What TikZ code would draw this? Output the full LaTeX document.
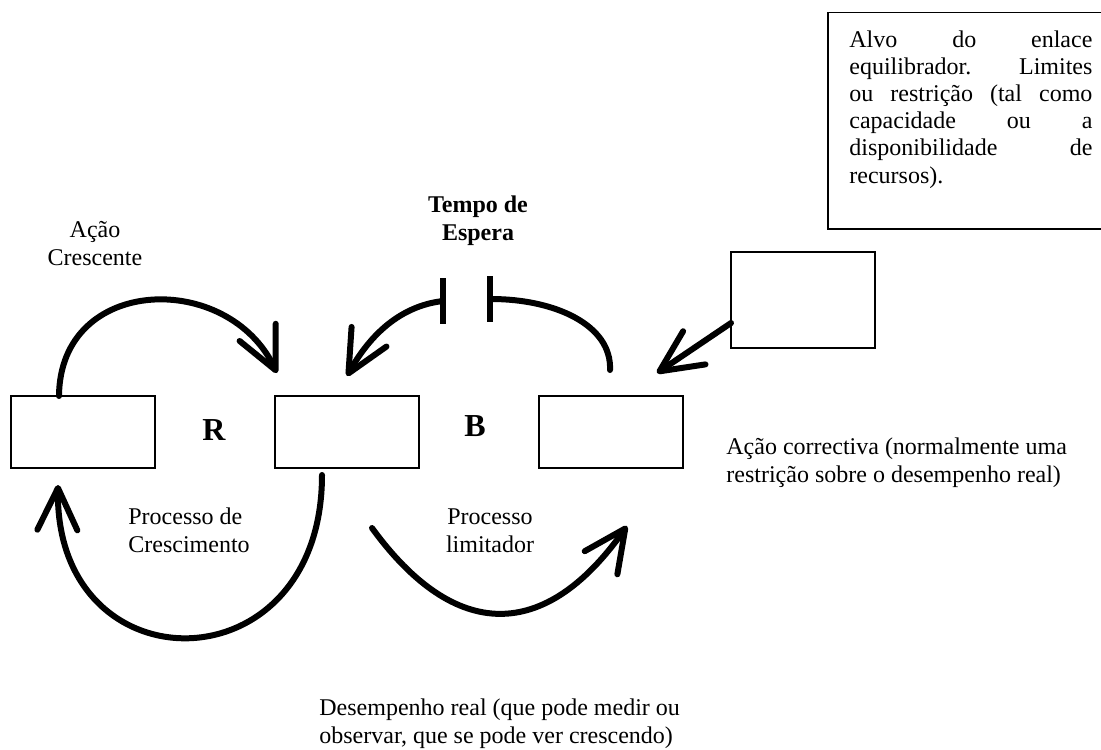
\documentclass[tikz,border=0pt]{standalone}
\usepackage{fontspec}
\setmainfont{Liberation Serif}
\usetikzlibrary{arrows.meta}
\newcommand\jline[1]{\makebox[121.5pt][s]{#1}}
\begin{document}
\begin{tikzpicture}[x=0.5pt,y=-0.5pt,
  box/.style={draw, line width=0.75pt, minimum width=72pt, minimum height=36pt, inner sep=0pt, outer sep=0pt},
  lbl/.style={font=\fontsize{12}{13.6}\selectfont, inner sep=0pt},
  blbl/.style={font=\fontsize{12}{14}\selectfont\bfseries, inner sep=0pt},
  big/.style={font=\fontsize{16}{18}\selectfont\bfseries, inner sep=0pt},
  link/.style={line width=3pt, line cap=round},
  loop/.style={link, -{Straight Barb[length=21pt,width=20pt,round]}},
  bar/.style={line width=3pt}]
\useasboundingbox (0,0) rectangle (1101,749);

% boxes
\node[box] (A) at (83,432) {};
\node[box] (B) at (347,432) {};
\node[box] (C) at (611,432) {};
\node[box, minimum height=48pt] (D) at (803,300) {};
\node[draw, line width=0.75pt, minimum width=140pt, minimum height=108pt, anchor=north west, inner sep=0pt] (E) at (827,12) {};
\node[lbl, anchor=north west, align=left] (Et) at (849,30) {\jline{Alvo do enlace}\\\jline{equilibrador. Limites}\\\jline{ou restrição (tal como}\\\jline{capacidade ou a}\\\jline{disponibilidade de}\\recursos).};

% labels (anchor base = baseline of the last line)
\node[lbl, align=center, anchor=base] (lac) at (95,265) {Ação\\Crescente};
\node[blbl, align=center, anchor=base] (ltd) at (478,240) {Tempo de\\Espera};
\node[big] (R) at (214,430) {R};
\node[big] (Bl) at (475,426) {B};
\node[lbl, align=left, anchor=base west] (lpc) at (128,552) {Processo de\\Crescimento};
\node[lbl, align=center, anchor=base] (lpl) at (490,552) {Processo\\limitador};
\node[lbl, align=left, anchor=base west] (lacr) at (726,482) {Ação correctiva (normalmente uma\\restrição sobre o desempenho real)};
\node[lbl, align=left, anchor=base west] (ldr) at (319,743) {Desempenho real (que pode medir ou\\observar, que se pode ver crescendo)};

% delay marks
\coordinate (dl) at (443,301);
\coordinate (dr) at (491,299);
\draw[bar] ([yshift=11.5pt]dl) -- ([yshift=-11.5pt]dl);
\draw[bar] ([yshift=11.5pt,xshift=-0.5pt]dr) -- ([yshift=-11.5pt,xshift=-0.5pt]dr);

% arrow end points
\coordinate (t1) at (277,373);
\coordinate (t2) at (347,376);
\coordinate (e3) at (610,370);
\coordinate (t3) at (657,373);
\coordinate (t4) at (58,485);
\coordinate (t5) at (627,526);

% connectors
\draw[loop] ([xshift=-12pt]A.north) .. controls (60,275) and (228,270) .. (t1);
\draw[loop] (dl) .. controls (400,306) and (370,335) .. (t2);
\draw[link] (e3) .. controls (612,325) and (555,299) .. (dr);
\draw[loop] ([yshift=-11.5pt]D.west) -- (t3);
\draw[loop] ([xshift=-12.5pt,yshift=-3.5pt]B.south) .. controls (322,690) and (55,690) .. (t4);
\draw[loop] ([xshift=-23.5pt,yshift=-30pt]B.south east) .. controls (455,642) and (545,642) .. (t5);
\end{tikzpicture}
\end{document}
